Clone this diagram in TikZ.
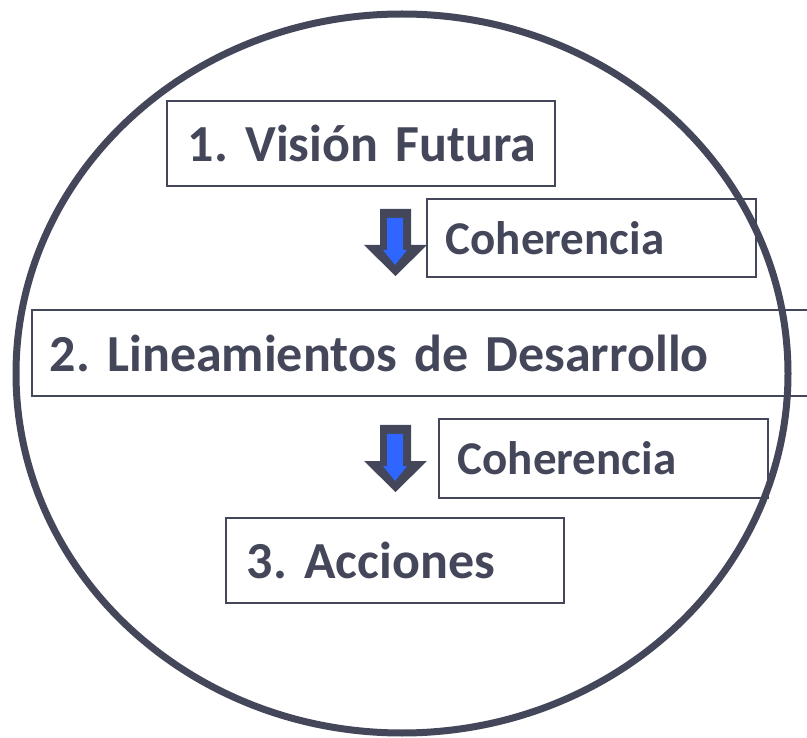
\documentclass[tikz,border=0pt]{standalone}
\usepackage{fontspec}
\setmainfont{Carlito}
\usepackage{tikz}

\definecolor{ink}{HTML}{44465A}
\definecolor{flecha}{HTML}{2F66FF}
\frenchspacing

\begin{document}
\begin{tikzpicture}[x=1pt,y=-1pt,
  etapa/.style={draw=ink, line width=1.6pt, text=ink, anchor=west, align=left,
    inner xsep=21pt, font=\fontsize{52}{60}\selectfont\bfseries},
  nexo/.style={etapa, inner xsep=19pt, font=\fontsize{47}{56}\selectfont\bfseries}]

\useasboundingbox (0,0) rectangle (807,738);

%% Etapas
\node [etapa, text width=346pt, minimum height=85pt] (vision) at (166,143.5) {\mbox{1. Visión Futura}};
\node [etapa, text width=747pt, minimum height=86pt, inner xsep=18pt] (lineas) at (31,353) {\mbox{2. Lineamientos de Desarrollo}};
\node [etapa, text width=296pt, minimum height=85pt] (acciones) at (225,560.5) {\mbox{3. Acciones}};

%% Coherencia entre etapas
\node [nexo, text width=291pt, minimum height=78pt] (coh1) at (426,238) {Coherencia};
\node [nexo, text width=291pt, minimum height=79pt] (coh2) at (438,458.5) {Coherencia};

%% Flechas
\foreach \dy in {0,216} {
  \fill [ink, shift={(0,\dy)}] (380,209) -- (411,209) -- (411,245) -- (427,245)
    -- (395.5,276) -- (364,245) -- (380,245) -- cycle;
  \fill [flecha, shift={(0,\dy)}] (387,218) -- (403,218) -- (403,250) -- (407,250)
    -- (395,265) -- (383,250) -- (387,250) -- cycle;
}

%% Marco
\draw [ink, line width=7pt] (402,373.5) ellipse [x radius=386, y radius=359.5];

\end{tikzpicture}
\end{document}
